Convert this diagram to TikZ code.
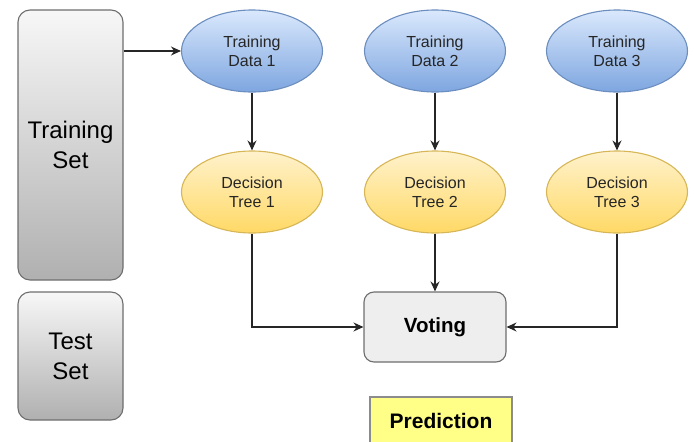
\documentclass[tikz,border=0pt]{standalone}
\usepackage{fontspec}
\setmainfont{Liberation Sans}
\usetikzlibrary{positioning,shapes.geometric,arrows.meta}

\definecolor{settop}{HTML}{F7F7F7}
\definecolor{setbot}{HTML}{B0B0B0}
\definecolor{setline}{HTML}{6E6E6E}
\definecolor{datatop}{HTML}{DAE8FC}
\definecolor{databot}{HTML}{7EA6E0}
\definecolor{dataline}{HTML}{6C8EBF}
\definecolor{treetop}{HTML}{FFF2CC}
\definecolor{treebot}{HTML}{FFD966}
\definecolor{treeline}{HTML}{D6B656}
\definecolor{votefill}{HTML}{EEEEEE}
\definecolor{predfill}{HTML}{FFFF88}

\begin{document}
\begin{tikzpicture}[x=1pt, y=1pt, line width=1.1pt,
    arr/.style={-{Stealth[length=10pt,width=9pt]}, draw=black!85},
    setbox/.style={draw=setline, rounded corners=12pt, top color=settop, bottom color=setbot,
      minimum width=105pt, align=center, font=\fontsize{24}{30}\selectfont},
    data/.style={ellipse, draw=dataline, top color=datatop, bottom color=databot, inner sep=0pt,
      minimum width=141pt, minimum height=82pt, align=center, text=black!85,
      font=\fontsize{16}{19}\selectfont},
    tree/.style={data, draw=treeline, top color=treetop, bottom color=treebot},
    vote/.style={draw=setline, rounded corners=10pt, fill=votefill, minimum width=142pt,
      minimum height=70pt, font=\fontsize{20.5}{24}\selectfont\bfseries},
    pred/.style={draw=black!45, fill=predfill, minimum width=142pt, minimum height=48pt,
      font=\fontsize{21}{24}\selectfont\bfseries}]
  \useasboundingbox (0,0) rectangle (694,-442);
  \clip (0,0) rectangle (694,-442);

  % the two data sets
  \node[setbox, minimum height=270pt] (tset) at (70.5,-145) {Training\\Set};
  \node[setbox, minimum height=128pt] (testset) at (70.5,-356) {Test\\Set};

  % bootstrap samples and their trees
  \node[data] (d1) at (252,-51) {Training\\Data 1};
  \node[data] (d2) at (435,-51) {Training\\Data 2};
  \node[data] (d3) at (617,-51) {Training\\Data 3};
  \node[tree] (t1) at (252,-192) {Decision\\Tree 1};
  \node[tree] (t2) at (435,-192) {Decision\\Tree 2};
  \node[tree] (t3) at (617,-192) {Decision\\Tree 3};

  \node[vote] (voting) at (435,-327) {Voting};
  \node[pred] (prediction) at (441,-421) {Prediction};

  \draw[arr] (tset.east |- d1.west) -- (d1.west);
  \draw[arr] (d1) -- (t1);
  \draw[arr] (d2) -- (t2);
  \draw[arr] (d3) -- (t3);
  \draw[arr] (t1.south) |- (voting.west);
  \draw[arr] (t2) -- (voting);
  \draw[arr] (t3.south) |- (voting.east);
\end{tikzpicture}
\end{document}
